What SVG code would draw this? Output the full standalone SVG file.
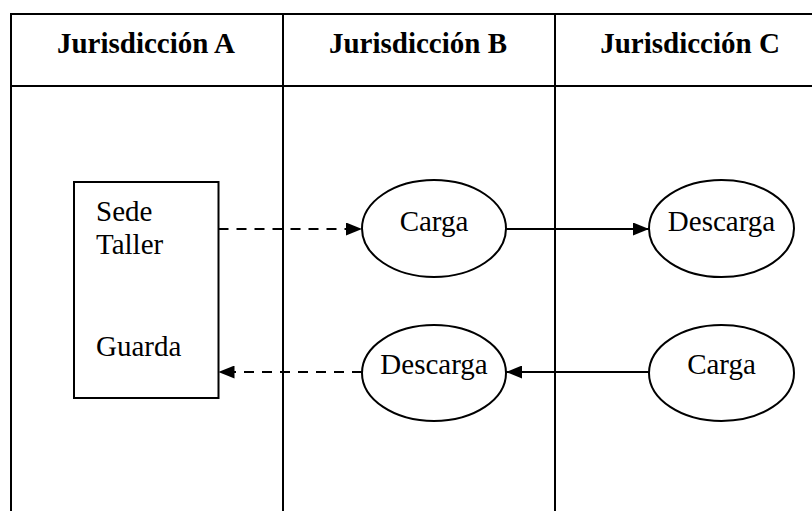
<svg xmlns="http://www.w3.org/2000/svg" width="812" height="511" viewBox="0 0 812 511">
<style>
.grid{stroke:#000;stroke-width:2;fill:none}
.hdr{font-family:"Liberation Serif","Times New Roman",serif;font-weight:bold;font-size:29px;text-anchor:middle;fill:#000}
.lbl{font-family:"Liberation Serif","Times New Roman",serif;font-size:29px;fill:#000}
.mid{text-anchor:middle}
.shape{fill:#fff;stroke:#000;stroke-width:2}
.conn{stroke:#000;stroke-width:2;fill:none}
.dash{stroke-dasharray:10 8}
</style>
<defs>
<marker id="arrow" viewBox="0 0 16 13" refX="16" refY="6.5" markerWidth="16" markerHeight="13" markerUnits="userSpaceOnUse" orient="auto">
<path d="M0,0 L16,6.5 L0,13 Z" fill="#000"/>
</marker>
</defs>
<rect width="812" height="511" fill="#fff"/>
<g id="table">
<line class="grid" x1="11" y1="14" x2="812" y2="14"/>
<line class="grid" x1="11" y1="86" x2="812" y2="86"/>
<line class="grid" x1="11" y1="13" x2="11" y2="511"/>
<line class="grid" x1="283" y1="13" x2="283" y2="511"/>
<line class="grid" x1="555" y1="13" x2="555" y2="511"/>
<text class="hdr" x="146" y="53">Jurisdicción A</text>
<text class="hdr" x="418" y="53">Jurisdicción B</text>
<text class="hdr" x="690" y="53">Jurisdicción C</text>
</g>
<g id="connectors">
<line class="conn dash" x1="218.5" y1="229" x2="362" y2="229" marker-end="url(#arrow)"/>
<line class="conn" x1="506" y1="229" x2="649" y2="229" marker-end="url(#arrow)"/>
<line class="conn" x1="649" y1="372" x2="506" y2="372" marker-end="url(#arrow)"/>
<line class="conn dash" x1="362" y1="372" x2="218.5" y2="372" marker-end="url(#arrow)"/>
</g>
<g id="sede">
<rect class="shape" x="74" y="182" width="144.5" height="216"/>
<text class="lbl" x="96" y="221">Sede</text>
<text class="lbl" x="96" y="254">Taller</text>
<text class="lbl" x="96" y="356">Guarda</text>
</g>
<g id="cargaB">
<ellipse class="shape" cx="434" cy="228.5" rx="72" ry="48.5"/>
<text class="lbl mid" x="434" y="231">Carga</text>
</g>
<g id="descargaC">
<ellipse class="shape" cx="721.5" cy="228.5" rx="72.5" ry="48.5"/>
<text class="lbl mid" x="721.5" y="231">Descarga</text>
</g>
<g id="descargaB">
<ellipse class="shape" cx="434" cy="373" rx="72" ry="48"/>
<text class="lbl mid" x="434" y="374">Descarga</text>
</g>
<g id="cargaC">
<ellipse class="shape" cx="721.5" cy="373" rx="72.5" ry="48"/>
<text class="lbl mid" x="721.5" y="374">Carga</text>
</g>
</svg>
